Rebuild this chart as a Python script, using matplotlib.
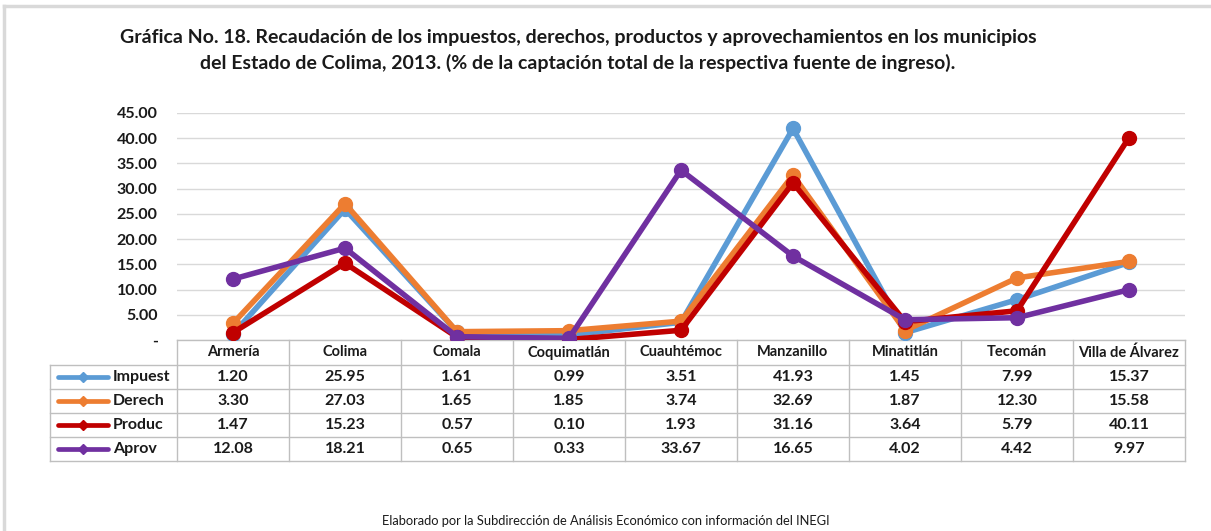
import matplotlib.pyplot as plt

W, H = 1211, 531

municipios = ["Armería", "Colima", "Comala", "Coquimatlán", "Cuauhtémoc",
              "Manzanillo", "Minatitlán", "Tecomán", "Villa de Álvarez"]
series_names = ["Impuest", "Derech", "Produc", "Aprov"]
impuestos = [1.20, 25.95, 1.61, 0.99, 3.51, 41.93, 1.45, 7.99, 15.37]
derechos = [3.30, 27.03, 1.65, 1.85, 3.74, 32.69, 1.87, 12.30, 15.58]
productos = [1.47, 15.23, 0.57, 0.10, 1.93, 31.16, 3.64, 5.79, 40.11]
aprovech = [12.08, 18.21, 0.65, 0.33, 33.67, 16.65, 4.02, 4.42, 9.97]
yticks = [0, 5, 10, 15, 20, 25, 30, 35, 40, 45]
ytick_labels = ["-", "5.00", "10.00", "15.00", "20.00", "25.00",
                "30.00", "35.00", "40.00", "45.00"]

series = [impuestos, derechos, productos, aprovech]
colors = ["#5B9BD5", "#ED7D31", "#C00000", "#7030A0"]

FONT = "Lato"
TEXT = "#1a1a1a"
GRID = "#D9D9D9"

# plot area, in pixels of the final image
left, right = 177, 1185
top, zero = 113, 340
row_edges = [340, 365, 389, 413, 437, 461]
label_left = 50

fig = plt.figure(figsize=(W / 100, H / 100), dpi=100)

ax = fig.add_axes([left / W, 1 - zero / H, (right - left) / W, (zero - top) / H])
x = range(len(municipios))
for vals, c, name in zip(series, colors, series_names):
    ax.plot(x, vals, color=c, lw=4, marker="o", ms=10, label=name,
            solid_joinstyle="round")
ax.set_xlim(-0.5, len(municipios) - 0.5)
ax.set_ylim(0, 45)
ax.set_yticks(yticks)
ax.set_yticklabels(ytick_labels, fontsize=11.5, fontweight="bold", color=TEXT,
                   fontfamily=FONT)
ax.tick_params(axis="y", length=0, pad=14)
ax.set_xticks([])
ax.grid(axis="y", color=GRID, lw=1)
ax.set_axisbelow(True)
for s in ax.spines.values():
    s.set_visible(False)
ax.set_facecolor("none")

# overlay in pixel coordinates for the data table and frame
ov = fig.add_axes([0, 0, 1, 1], zorder=-1)
ov.set_xlim(0, W)
ov.set_ylim(H, 0)
ov.axis("off")

border = "#BFBFBF"
col_w = (right - left) / len(municipios)
ov.plot([left, right], [row_edges[0]] * 2, color=border, lw=1)
for r in row_edges[1:]:
    ov.plot([label_left, right], [r, r], color=border, lw=1)
for i in range(len(municipios) + 1):
    xx = left + i * col_w
    ov.plot([xx, xx], [row_edges[0], row_edges[-1]], color=border, lw=1)
ov.plot([label_left, label_left], [row_edges[1], row_edges[-1]], color=border, lw=1)

for i, m in enumerate(municipios):
    cx = left + (i + 0.5) * col_w
    ov.text(cx, (row_edges[0] + row_edges[1]) / 2, m, ha="center", va="center",
            fontsize=10.5, fontweight="bold", color=TEXT, fontfamily=FONT)
for j, (vals, c, name) in enumerate(zip(series, colors, series_names)):
    cy = (row_edges[j + 1] + row_edges[j + 2]) / 2
    ov.plot([58, 108], [cy, cy], color=c, lw=3.4, solid_capstyle="round")
    ov.plot([83], [cy], color=c, marker="D", ms=5)
    ov.text(113, cy, name, ha="left", va="center", fontsize=11.5,
            fontweight="bold", color=TEXT, fontfamily=FONT)
    for i, v in enumerate(vals):
        cx = left + (i + 0.5) * col_w
        ov.text(cx, cy, f"{v:.2f}", ha="center", va="center", fontsize=11.5,
                fontweight="bold", color=TEXT, fontfamily=FONT)

# light frame on top and left
ov.plot([4, W], [6, 6], color="#D9D9D9", lw=2.5)
ov.plot([4, 4], [6, H], color="#D9D9D9", lw=2.5)

fig.text(578 / W, 1 - 38 / H,
         "Gráfica No. 18. Recaudación de los impuestos, derechos, productos y aprovechamientos en los municipios",
         ha="center", va="center", fontsize=14, fontweight="bold", color=TEXT,
         fontfamily=FONT)
fig.text(578 / W, 1 - 63 / H,
         "del Estado de Colima, 2013. (% de la captación total de la respectiva fuente de ingreso).",
         ha="center", va="center", fontsize=14, fontweight="bold", color=TEXT,
         fontfamily=FONT)
fig.text(606 / W, 1 - 521 / H,
         "Elaborado por la Subdirección de Análisis Económico con información del INEGI",
         ha="center", va="center", fontsize=9.3, color=TEXT, fontfamily=FONT)

fig.savefig("out.png", dpi=100, facecolor="white")
